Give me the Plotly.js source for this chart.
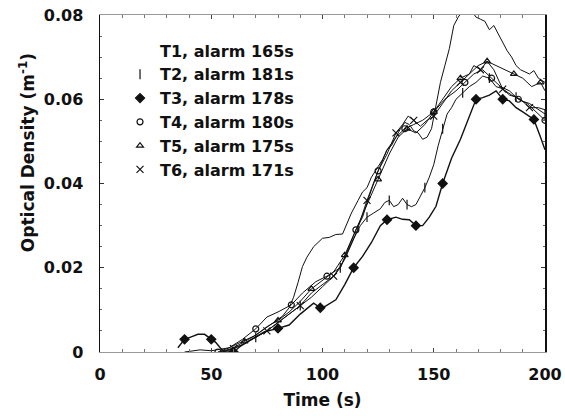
<!DOCTYPE html>
<html>
<head>
<meta charset="utf-8">
<script src="https://cdn.plot.ly/plotly-3.0.1.min.js"></script>
<style>html,body{margin:0;padding:0;background:#fff}#chart{width:565px;height:416px}</style>
</head>
<body>
<div id="chart"></div>
<script>
// Series names (legend labels)
const seriesNames = ["T1, alarm 165s", "T2, alarm 181s", "T3, alarm 178s", "T4, alarm 180s", "T5, alarm 175s", "T6, alarm 171s"];

// T1 (no markers)
const t1Time = [38,45,50,55,58,62,66,70,74,78,82,85,87,89,91,93,96,98,100,103,106,109,111,113,116,118,120,122,125,127,129,131,133,135,137,139,141,143,145,147,149,151,153,155,157,159,161,163,165,167,169,171,173,175,177,179,181,183,185,187,189,191,193,195,197,200];
const t1OD   = [0,0.0005,0.0003,0.0008,0.001,0.002,0.003,0.004,0.0055,0.007,0.0085,0.0105,0.013,0.0165,0.0203,0.0225,0.025,0.026,0.027,0.0272,0.0279,0.028,0.0305,0.033,0.036,0.038,0.039,0.0415,0.044,0.0457,0.048,0.049,0.051,0.053,0.0545,0.054,0.0525,0.052,0.0505,0.051,0.053,0.059,0.064,0.068,0.072,0.0775,0.0795,0.081,0.082,0.081,0.0795,0.079,0.0785,0.0765,0.0775,0.0755,0.0735,0.0715,0.07,0.068,0.067,0.0665,0.066,0.0668,0.065,0.064];

// T2
const t2Time = [55,60,65,70,75,80,85,90,95,100,105,108,111,114,117,120,123,126,128,130,132,134,136,138,140,142,144,146,148,150,152,154,156,158,160,163,166,169,172,175,178,181,184,187,190,193,196,200];
const t2OD   = [0,0.0008,0.002,0.0035,0.005,0.007,0.009,0.011,0.013,0.0155,0.018,0.02,0.0235,0.027,0.03,0.032,0.033,0.034,0.0355,0.036,0.0345,0.035,0.0365,0.035,0.0345,0.035,0.037,0.039,0.0415,0.0445,0.049,0.053,0.0565,0.058,0.06,0.0615,0.063,0.064,0.0655,0.065,0.063,0.0625,0.061,0.0605,0.0595,0.059,0.058,0.0565];

// T3
const t3Time = [35,38,41,44,47,50,52,54,56,60,63,68,74,80,85,90,96,99,101,106,110,114,118,122,126,129,133,136,139,142,145,148,151,154,158,162,166,169,172,175,178,181,184,187,190,195,198,200];
const t3OD   = [0.001,0.003,0.0036,0.0042,0.0042,0.003,0.0023,0.001,0,0,0.0013,0.003,0.0048,0.0056,0.0064,0.009,0.0116,0.0105,0.0108,0.0124,0.016,0.02,0.0227,0.026,0.03,0.0314,0.032,0.0315,0.0314,0.03,0.03,0.032,0.0346,0.04,0.046,0.0505,0.056,0.06,0.0604,0.061,0.062,0.06,0.0596,0.058,0.057,0.0552,0.051,0.048];

// T4
const t4Time = [53,58,64,70,75,80,86,91,97,102,108,112,115,118,121,125,129,133,137,141,145,150,155,160,164,168,172,176,180,184,188,192,196,200];
const t4OD   = [0,0.001,0.003,0.0055,0.0083,0.0095,0.0112,0.014,0.0167,0.018,0.02,0.025,0.029,0.032,0.037,0.043,0.048,0.051,0.053,0.054,0.055,0.057,0.06,0.062,0.064,0.066,0.067,0.065,0.063,0.062,0.06,0.059,0.057,0.055];

// T5
const t5Time = [54,60,65,70,75,80,85,90,95,100,105,110,115,120,125,130,134,138,142,146,150,154,158,162,166,170,174,178,182,186,190,194,198,200];
const t5OD   = [0,0.001,0.0025,0.004,0.006,0.0075,0.0095,0.012,0.015,0.017,0.019,0.023,0.029,0.035,0.041,0.047,0.051,0.053,0.052,0.054,0.057,0.06,0.063,0.065,0.066,0.068,0.069,0.068,0.067,0.066,0.065,0.063,0.064,0.062];

// T6
const t6Time = [55,60,65,70,75,80,85,90,95,100,105,110,115,120,125,129,133,136,138.5,141,144,147,150,154,158,162,166,168,171,174,177,181,185,189,193,197,200];
const t6OD   = [0,0.0008,0.002,0.0035,0.005,0.007,0.009,0.011,0.014,0.016,0.018,0.022,0.028,0.036,0.043,0.047,0.052,0.054,0.056,0.055,0.0536,0.055,0.056,0.059,0.062,0.064,0.066,0.068,0.067,0.069,0.067,0.0624,0.061,0.06,0.058,0.058,0.0575];

const xTickVals = [0, 50, 100, 150, 200];
const yTickVals = [0, 0.02, 0.04, 0.06, 0.08];

const times = [t1Time, t2Time, t3Time, t4Time, t5Time, t6Time];
const values = [t1OD, t2OD, t3OD, t4OD, t5OD, t6OD];
const symbols = ["circle", "line-ns-open", "diamond", "circle-open", "triangle-up-open", "x-thin-open"];
const sizes = [6, 7, 7, 6, 6, 7];
const widths = [1, 1, 1.4, 1, 1, 1];

const FONT = "DejaVu Sans, Liberation Sans, Arial, sans-serif";

const traces = [];
// lines (no legend entry)
seriesNames.forEach((name, i) => {
  traces.push({
    type: "scatter", x: times[i], y: values[i], name: name,
    mode: "lines", showlegend: false, legendgroup: "g" + i,
    line: {color: "#111", width: widths[i]}
  });
});
// markers (legend entries show marker only, like the reference)
seriesNames.forEach((name, i) => {
  const col = i === 0 ? "rgba(0,0,0,0)" : "#111";
  traces.push({
    type: "scatter", x: times[i], y: values[i], name: name,
    mode: "markers", showlegend: true, legendgroup: "g" + i,
    marker: {symbol: symbols[i], size: sizes[i], color: col,
             line: {color: col, width: 1.2}, maxdisplayed: 15}
  });
});

const layout = {
  width: 565, height: 416,
  margin: {l: 100, r: 20, t: 15, b: 64},
  paper_bgcolor: "#fff", plot_bgcolor: "#fff",
  showlegend: true,
  legend: {
    x: 0.045, y: 0.945, xanchor: "left", yanchor: "top",
    bgcolor: "rgba(0,0,0,0)", borderwidth: 0, tracegroupgap: 0,
    font: {family: FONT, size: 16, color: "#111", weight: "bold"}
  },
  xaxis: {
    range: [0, 200], tickvals: xTickVals, ticks: "inside", ticklen: 4, tickcolor: "#444",
    minor: {dtick: 10, ticks: "inside", ticklen: 3, tickcolor: "#777"},
    showline: true, linecolor: "#999", linewidth: 1, mirror: "allticks",
    showgrid: false, zeroline: false, ticklabelstandoff: 8,
    tickfont: {family: FONT, size: 16, color: "#111", weight: "bold"},
    title: {text: "Time (s)", standoff: 10, font: {family: FONT, size: 17, color: "#111", weight: "bold"}}
  },
  yaxis: {
    range: [0, 0.08], tickvals: yTickVals, ticks: "inside", ticklen: 4, tickcolor: "#333",
    minor: {dtick: 0.005, ticks: "inside", ticklen: 2, tickcolor: "#666"},
    showline: true, linecolor: "#111", linewidth: 1.5, mirror: "allticks",
    showgrid: false, zeroline: false, ticklabelstandoff: 12,
    tickfont: {family: FONT, size: 16, color: "#111", weight: "bold"}
  },
  annotations: [{
    text: "Optical Density (m<sup>-1</sup>)", xref: "paper", yref: "paper",
    x: -0.164, y: 0.59, xanchor: "center", yanchor: "middle", textangle: -90,
    showarrow: false, font: {family: FONT, size: 17, color: "#111", weight: "bold"}
  }]
};

Plotly.newPlot("chart", traces, layout, {displayModeBar: false, staticPlot: true});
</script>
</body>
</html>
